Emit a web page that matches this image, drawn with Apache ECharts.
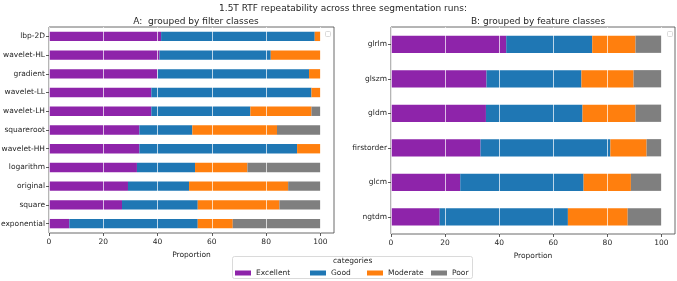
<!DOCTYPE html>
<html><head><meta charset="utf-8">
<script src="https://cdn.jsdelivr.net/npm/echarts@6/dist/echarts.min.js"></script>
<style>html,body{margin:0;padding:0;background:#fff}#c{width:677px;height:281px}</style>
</head><body><div id="c"></div>
<script>
const categories = ['Excellent', 'Good', 'Moderate', 'Poor'];
const colors = ['#8e24aa', '#1f77b4', '#ff7f0e', '#7f7f7f'];
const xTicks = [0, 20, 40, 60, 80, 100];

const filterClasses = ['lbp-2D','wavelet-HL','gradient','wavelet-LL','wavelet-LH','squareroot','wavelet-HH','logarithm','original','square','exponential'];
const filterExcellent = [41.3, 40.7, 39.9, 37.7, 37.7, 33.3, 33.3, 32.4, 29.1, 26.9, 7.5];
const filterGood      = [56.6, 41.0, 55.9, 59.0, 36.5, 19.5, 58.1, 21.4, 22.5, 27.9, 47.3];
const filterModerate  = [2.1, 18.3, 4.2, 3.3, 22.5, 31.2, 8.6, 19.3, 36.5, 30.1, 12.9];
const filterPoor      = [0, 0, 0, 0, 3.3, 16.0, 0, 26.9, 11.9, 15.1, 32.3];

const featureClasses = ['glrlm','glszm','gldm','firstorder','glcm','ngtdm'];
const featureExcellent = [42.6, 35.3, 35.1, 33.1, 25.6, 18.0];
const featureGood      = [31.8, 35.1, 35.7, 48.0, 45.6, 47.4];
const featureModerate  = [16.0, 19.3, 19.6, 13.4, 17.5, 22.1];
const featurePoor      = [9.6, 10.3, 9.6, 5.5, 11.3, 12.5];

const FONT = 'DejaVu Sans';
const TXT = '#262626';
const FS = 7.5;
const TFS = 9;

function xAxisCfg(gi) {
  return {
    type: 'value', gridIndex: gi, min: 0, max: 105, interval: 20, z: 10,
    name: 'Proportion', nameLocation: 'middle', nameGap: 17,
    nameTextStyle: {fontFamily: FONT, fontSize: FS, color: TXT},
    axisLine: {show: false},
    axisTick: {show: true, length: 3, lineStyle: {color: '#333', width: 0.8}, customValues: xTicks},
    axisLabel: {fontFamily: FONT, fontSize: FS, color: TXT, margin: 5, customValues: xTicks,
      formatter: v => (v % 20 === 0 ? String(v) : '')},
    splitLine: {show: true, lineStyle: {color: '#ffffff', width: 1, opacity: 0.7}}
  };
}
function yAxisCfg(gi, cats) {
  return {
    type: 'category', gridIndex: gi, data: cats, inverse: true,
    axisLine: {show: false},
    axisTick: {show: true, alignWithLabel: true, length: 3, lineStyle: {color: '#333', width: 0.8}},
    axisLabel: {fontFamily: FONT, fontSize: FS, color: TXT, margin: 4},
    splitLine: {show: false}
  };
}
function seriesFor(gi, arrs) {
  return arrs.map((d, i) => ({
    type: 'bar', name: categories[i], stack: 's' + gi, xAxisIndex: gi, yAxisIndex: gi,
    data: d, barCategoryGap: '50%', itemStyle: {color: colors[i]}, z: 2,
    emphasis: {disabled: true}
  }));
}
const legendLefts = [235, 310, 367, 431];
const legends = categories.map((c, i) => ({
  data: [c], left: legendLefts[i], top: 269, padding: 0, itemWidth: 16, itemHeight: 5, icon: 'rect',
  textStyle: {fontFamily: FONT, fontSize: FS, color: TXT}, selectedMode: false
}));

const chart = echarts.init(document.getElementById('c'), null, {renderer: 'canvas'});
chart.setOption({
  animation: false,
  backgroundColor: '#fff',
  title: [
    {text: '1.5T RTF repeatability across three segmentation runs:', left: 338, textAlign: 'center', top: -1,
     textStyle: {fontFamily: FONT, fontSize: TFS, fontWeight: 'normal', color: TXT}},
    {text: 'A:  grouped by filter classes', left: 191, textAlign: 'center', top: 12,
     textStyle: {fontFamily: FONT, fontSize: TFS, fontWeight: 'normal', color: TXT}},
    {text: 'B: grouped by feature classes', left: 533, textAlign: 'center', top: 12,
     textStyle: {fontFamily: FONT, fontSize: TFS, fontWeight: 'normal', color: TXT}}
  ],
  grid: [
    {left: 49, top: 27, width: 285, height: 206, show: true, borderColor: '#444', borderWidth: 0.8, backgroundColor: 'transparent', containLabel: false, outerBoundsMode: 'none'},
    {left: 391, top: 27, width: 284, height: 207, show: true, borderColor: '#444', borderWidth: 0.8, backgroundColor: 'transparent', containLabel: false, outerBoundsMode: 'none'}
  ],
  xAxis: [xAxisCfg(0), xAxisCfg(1)],
  yAxis: [yAxisCfg(0, filterClasses), yAxisCfg(1, featureClasses)],
  legend: legends,
  graphic: [
    {type: 'rect', shape: {x: 232.5, y: 256.5, width: 240, height: 22, r: 2}, style: {fill: 'rgba(255,255,255,0.8)', stroke: '#d0d0d0', lineWidth: 0.8}, z: -1},
    {type: 'text', left: 333, top: 257, style: {text: 'categories', fontFamily: FONT, fontSize: FS, fill: TXT}},
    {type: 'rect', shape: {x: 325.5, y: 31.5, width: 5, height: 5, r: 1}, style: {fill: '#fff', stroke: '#d0d0d0', lineWidth: 0.8}},
    {type: 'rect', shape: {x: 667.5, y: 31.5, width: 5, height: 5, r: 1}, style: {fill: '#fff', stroke: '#d0d0d0', lineWidth: 0.8}}
  ],
  series: [
    ...seriesFor(0, [filterExcellent, filterGood, filterModerate, filterPoor]),
    ...seriesFor(1, [featureExcellent, featureGood, featureModerate, featurePoor])
  ]
});
</script></body></html>
